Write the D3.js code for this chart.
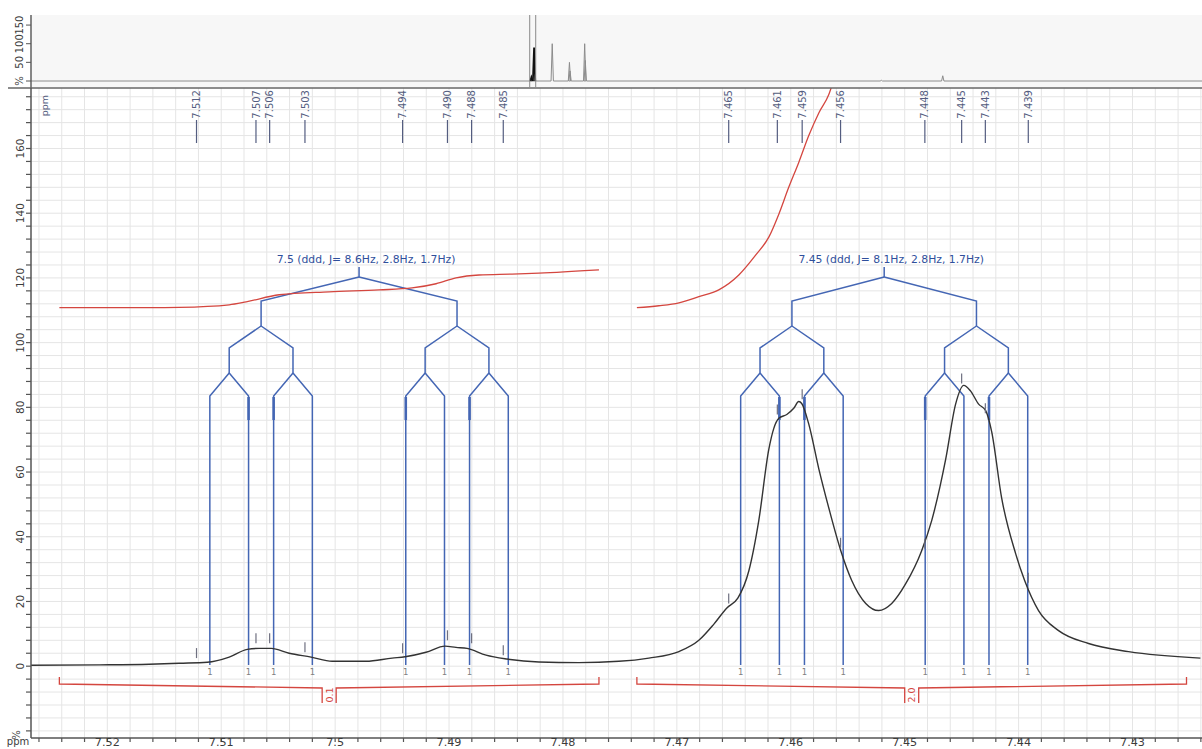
<!DOCTYPE html>
<html>
<head>
<meta charset="utf-8">
<title>1H NMR, 7.42–7.53 ppm</title>
<script src="https://cdn.jsdelivr.net/npm/d3@7/dist/d3.min.js"></script>
<style>
  html, body { margin: 0; padding: 0; background: #ffffff; }
  svg { display: block; }
</style>
</head>
<body>
<svg id="chart" width="1202" height="749"></svg>
<script>
// ---------------- data ----------------
const spectrometerMHz = 500;

// expanded region shown in the main panel (ppm, left -> right)
const zoomRange = [7.5267, 7.4239];

// spectrum trace in the expanded region
const spectrumPpm = [7.52675, 7.52070, 7.51632, 7.51368, 7.51123, 7.50930, 7.50772, 7.50667, 7.50561, 7.50404,
  7.50211, 7.50026, 7.49728, 7.49500, 7.49386, 7.49202, 7.49035, 7.48939, 7.48842, 7.48675,
  7.48491, 7.48211, 7.47860, 7.47509, 7.47246, 7.46982, 7.46807, 7.46675, 7.46561, 7.46465,
  7.46368, 7.46281, 7.46193, 7.46149, 7.46105, 7.46035, 7.45974, 7.45930, 7.45904, 7.45842,
  7.45754, 7.45667, 7.45561, 7.45465, 7.45342, 7.45228, 7.45114, 7.44991, 7.44851, 7.44763,
  7.44640, 7.44553, 7.44482, 7.44421, 7.44351, 7.44289, 7.44237, 7.44149, 7.44026, 7.43947,
  7.43825, 7.43649, 7.43386, 7.43035, 7.42404];
const spectrumIntensity = [0.3, 0.4, 0.6, 0.9, 1.2, 2.8, 5.2, 5.5, 5.5, 4.0,
  2.8, 1.5, 1.5, 2.5, 2.9, 4.3, 6.2, 5.8, 5.5, 3.4,
  2.2, 1.3, 1.1, 1.5, 2.5, 4.5, 8, 13, 18, 21,
  29.5, 45, 67, 73.5, 76.6, 77.8, 79.7, 81.8, 81.2, 74.8,
  61, 49, 35.7, 26.5, 19.4, 17.2, 19.4, 25.5, 35.7, 45,
  64, 81, 86.8, 85, 81, 79, 72.6, 52, 34.8, 26.5,
  17.2, 11, 7, 4.5, 2.5];

// picked peaks
const peakPpm = [7.51217, 7.50695, 7.50575, 7.50265, 7.49408, 7.49014, 7.48802, 7.48524,
  7.46545, 7.46118, 7.45900, 7.45563, 7.44823, 7.44500, 7.44292, 7.43915];
const peakHeight = [2.5, 7.1, 7.1, 4.3, 4.0, 8.0, 7.1, 3.4, 19.4, 77.8, 82.5, 36.6, 36.3, 87.4, 78.2, 25.8];

// multiplet analysis
const multipletCenter = [7.4979, 7.4518];
const multipletJ = [[8.6, 2.8, 1.7], [8.1, 2.8, 1.7]];
const multipletLabel = ["7.5 (ddd, J= 8.6Hz, 2.8Hz, 1.7Hz)", "7.45 (ddd, J= 8.1Hz, 2.8Hz, 1.7Hz)"];

// integrals
const integralRange = [[7.52421, 7.47684], [7.47351, 7.42526]];
const integralValue = ["0.1", "2.0"];
const leftIntegralPpm = [7.52421, 7.51632, 7.51368, 7.50930, 7.50781, 7.50491, 7.50053, 7.49614,
  7.49325, 7.49114, 7.48939, 7.48737, 7.48447, 7.48211, 7.47684];
const leftIntegralValue = [110.8, 110.8, 110.9, 111.7, 112.6, 114.8, 115.7, 116.3,
  116.9, 118.2, 120.0, 120.9, 121.2, 121.5, 122.5];
const rightIntegralPpm = [7.47351, 7.47158, 7.46982, 7.46807, 7.46632, 7.46456, 7.46307, 7.46193,
  7.46105, 7.46018, 7.45930, 7.45842, 7.45754, 7.45667, 7.45600];
const rightIntegralValue = [110.8, 111.4, 112.3, 114.2, 116.3, 120.9, 127.1, 132.6,
  139.7, 148.0, 155.7, 164.0, 171.0, 176.6, 184.0];

// axis ticks
const xTickValues = [7.52, 7.51, 7.50, 7.49, 7.48, 7.47, 7.46, 7.45, 7.44, 7.43];
const xTickLabels = ["7.52", "7.51", "7.5", "7.49", "7.48", "7.47", "7.46", "7.45", "7.44", "7.43"];
const yTickValues = [0, 20, 40, 60, 80, 100, 120, 140, 160];
const yTickLabels = ["0", "20", "40", "60", "80", "100", "120", "140", "160"];

// full-width overview spectrum
const overviewDomain = [16.07, -3.99];
const overviewPeakPpm = [7.498, 7.452, 7.141, 6.846, 6.836, 6.585, 6.575, 1.503, 0.451];
const overviewPeakHeight = [10, 90, 100, 50, 27, 100, 55, 2, 14];
const overviewTickValues = [0, 50, 100, 150];
const overviewTickLabels = ["%", "50", "100", "150"];

// ---------------- drawing ----------------
const FONT = '"DejaVu Sans", Verdana, sans-serif';
const svg = d3.select("#chart").style("font-family", FONT);

const plot = { left: 31, right: 1202, top: 88, bottom: 738 };
const x = d3.scaleLinear().domain(zoomRange).range([plot.left, plot.right]);
const y = d3.scaleLinear().domain([-22.2, 178.7]).range([plot.bottom, plot.top]);
const hzToPpm = hz => hz / spectrometerMHz;

function vtext(g, px, py, str, anchor, size, color) {
  return g.append("text")
    .attr("transform", `translate(${px},${py}) rotate(-90)`)
    .attr("text-anchor", anchor)
    .attr("font-size", size)
    .attr("fill", color)
    .text(str);
}

// ----- overview strip -----
const strip = { left: 31, right: 1202, top: 15, bottom: 87 };
const sx = d3.scaleLinear().domain(overviewDomain).range([strip.left, strip.right]);
const sy = d3.scaleLinear().domain([0, 177]).range([81, strip.top]);

svg.append("rect")
  .attr("x", strip.left).attr("y", strip.top)
  .attr("width", strip.right - strip.left).attr("height", strip.bottom - strip.top)
  .attr("fill", "#f7f7f7");

const inZoom = p => p <= zoomRange[0] && p >= zoomRange[1];
const stickLine = d3.line().x(d => sx(d[0])).y(d => sy(d[1]));
const overviewIdx = d3.range(overviewPeakPpm.length).sort((a, b) => overviewPeakPpm[b] - overviewPeakPpm[a]);
const outsidePts = [[overviewDomain[0], 0]];
overviewIdx.filter(i => !inZoom(overviewPeakPpm[i])).forEach(i => {
  const p = overviewPeakPpm[i], h = overviewPeakHeight[i];
  outsidePts.push([p + 0.02, 0], [p, h], [p - 0.02, 0]);
});
outsidePts.push([overviewDomain[1], 0]);
svg.append("path").attr("d", stickLine(outsidePts))
  .attr("fill", "none").attr("stroke", "#8c8c8c").attr("stroke-width", 1);

overviewIdx.filter(i => inZoom(overviewPeakPpm[i])).forEach(i => {
  const p = overviewPeakPpm[i], h = overviewPeakHeight[i];
  svg.append("path").attr("d", stickLine([[p + 0.02, 0], [p, h], [p - 0.02, 0]]))
    .attr("fill", "none").attr("stroke", "#111").attr("stroke-width", 1.8);
});

zoomRange.forEach(p => {
  svg.append("line")
    .attr("x1", sx(p)).attr("x2", sx(p))
    .attr("y1", strip.top).attr("y2", strip.bottom)
    .attr("stroke", "#8a8a8a").attr("stroke-width", 1);
});

// strip axis
svg.append("line").attr("x1", strip.left).attr("x2", strip.left)
  .attr("y1", strip.top).attr("y2", plot.top)
  .attr("stroke", "#555").attr("stroke-width", 1.4);
overviewTickValues.forEach((v, i) => {
  svg.append("line").attr("x1", strip.left - 5).attr("x2", strip.left)
    .attr("y1", sy(v)).attr("y2", sy(v)).attr("stroke", "#555");
  vtext(svg, 23, sy(v), overviewTickLabels[i], "middle", 10, "#3c3c3c");
});

// ----- main panel -----
svg.append("defs").append("clipPath").attr("id", "plotClip")
  .append("rect").attr("x", plot.left).attr("y", plot.top)
  .attr("width", plot.right - plot.left).attr("height", plot.bottom - plot.top);

const grid = svg.append("g").attr("stroke", "#e5e5e5").attr("stroke-width", 1);
const xMinorTicks = d3.range(0, 60).map(i => 7.526 - i * 0.002).filter(p => p >= zoomRange[1]);
xMinorTicks.forEach(p => {
  grid.append("line").attr("x1", x(p)).attr("x2", x(p))
    .attr("y1", plot.top).attr("y2", plot.bottom);
});
const yGridValues = d3.range(-20, 178, 4);
yGridValues.forEach(v => {
  grid.append("line").attr("x1", plot.left).attr("x2", plot.right)
    .attr("y1", y(v)).attr("y2", y(v));
});

const body = svg.append("g").attr("clip-path", "url(#plotClip)");

// multiplet trees
const BLUE = "#4466b4";
const lvl = { stemTop: 267, top: 277, l1: 301, l1b: 326, l2: 348, l2b: 373, l3: 396, bottom: 665 };
const trees = body.append("g").attr("fill", "none").attr("stroke", BLUE).attr("stroke-width", 1.5);
multipletCenter.forEach((c, m) => {
  const [J1, J2, J3] = multipletJ[m].map(hzToPpm);
  const cx = x(c);
  trees.append("line").attr("x1", cx).attr("x2", cx).attr("y1", lvl.stemTop).attr("y2", lvl.top);
  const finals = [];
  [-1, 1].forEach(s1 => {
    const p1 = c - s1 * J1 / 2;
    trees.append("polyline").attr("points", [[cx, lvl.top], [x(p1), lvl.l1], [x(p1), lvl.l1b]].join(" "));
    [-1, 1].forEach(s2 => {
      const p2 = p1 - s2 * J2 / 2;
      trees.append("polyline").attr("points", [[x(p1), lvl.l1b], [x(p2), lvl.l2], [x(p2), lvl.l2b]].join(" "));
      [-1, 1].forEach(s3 => {
        const p3 = p2 - s3 * J3 / 2;
        trees.append("polyline").attr("points", [[x(p2), lvl.l2b], [x(p3), lvl.l3], [x(p3), lvl.bottom]].join(" "));
        finals.push(p3);
      });
    });
  });
  finals.forEach((p, k) => {
    if ([1, 2, 4, 6].includes(k)) {
      trees.append("line").attr("x1", x(p)).attr("x2", x(p))
        .attr("y1", lvl.l3 + 1).attr("y2", lvl.l3 + 24).attr("stroke-width", 2.6);
    }
    svg.append("text").attr("x", x(p)).attr("y", 675)
      .attr("text-anchor", "middle").attr("font-size", 8.5).attr("fill", "#808080").text("1");
  });
  svg.append("text").attr("x", cx + 7).attr("y", 263)
    .attr("text-anchor", "middle").attr("font-size", 10.8).attr("fill", "#2f4f9c")
    .text(multipletLabel[m]);
});

// integral curves
const RED = "#d4463f";
const integralLine = d3.line().x(d => x(d[0])).y(d => y(d[1])).curve(d3.curveMonotoneX);
[[leftIntegralPpm, leftIntegralValue], [rightIntegralPpm, rightIntegralValue]].forEach(([ps, vs]) => {
  body.append("path").attr("d", integralLine(ps.map((p, i) => [p, vs[i]])))
    .attr("fill", "none").attr("stroke", RED).attr("stroke-width", 1.3);
});

// spectrum
const specLine = d3.line().x(d => x(d[0])).y(d => y(d[1])).curve(d3.curveMonotoneX);
body.append("path").attr("d", specLine(spectrumPpm.map((p, i) => [p, spectrumIntensity[i]])))
  .attr("fill", "none").attr("stroke", "#333").attr("stroke-width", 1.4);

// peak markers above the trace
peakPpm.forEach((p, i) => {
  body.append("line").attr("x1", x(p)).attr("x2", x(p))
    .attr("y1", y(peakHeight[i])).attr("y2", y(peakHeight[i]) - 10)
    .attr("stroke", "#6f7080").attr("stroke-width", 1.2);
});

// integral brackets
integralRange.forEach((r, i) => {
  const xa = x(r[0]), xb = x(r[1]), xc = (xa + xb) / 2;
  const path = `M${xa},677 V684 L${xc - 7},688 V703 M${xc + 7},703 V688 L${xb},684 V677`;
  svg.append("path").attr("d", path).attr("fill", "none").attr("stroke", RED).attr("stroke-width", 1.3);
  vtext(svg, xc + 3.5, 695, integralValue[i], "middle", 9.5, RED);
});

// peak labels along the top
const PEAKCOL = "#545d80";
peakPpm.forEach(p => {
  const px = x(p);
  vtext(svg, px + 3.6, 90, p.toFixed(3), "end", 10, PEAKCOL);
  svg.append("line").attr("x1", px).attr("x2", px).attr("y1", 120).attr("y2", 143)
    .attr("stroke", PEAKCOL).attr("stroke-width", 1.2);
});
vtext(svg, 48, 95, "ppm", "end", 9.5, PEAKCOL);

// frame line between the panels
svg.append("line").attr("x1", 8).attr("x2", plot.right).attr("y1", plot.top).attr("y2", plot.top)
  .attr("stroke", "#666").attr("stroke-width", 1.5);

// y axis
const axisG = svg.append("g");
axisG.append("line").attr("x1", plot.left).attr("x2", plot.left)
  .attr("y1", plot.top).attr("y2", plot.bottom).attr("stroke", "#555").attr("stroke-width", 1.5);
yGridValues.forEach(v => {
  axisG.append("line").attr("x1", plot.left - 5).attr("x2", plot.left)
    .attr("y1", y(v)).attr("y2", y(v)).attr("stroke", "#555").attr("stroke-width", 1.2);
});
yTickValues.forEach((v, i) => vtext(axisG, 24, y(v), yTickLabels[i], "middle", 10.5, "#3c3c3c"));

// x axis
axisG.append("line").attr("x1", plot.left).attr("x2", plot.right)
  .attr("y1", plot.bottom).attr("y2", plot.bottom).attr("stroke", "#555").attr("stroke-width", 1.5);
xMinorTicks.forEach(p => {
  axisG.append("line").attr("x1", x(p)).attr("x2", x(p))
    .attr("y1", plot.bottom).attr("y2", plot.bottom + 4).attr("stroke", "#555").attr("stroke-width", 1.2);
});
xTickValues.forEach((v, i) => {
  axisG.append("text").attr("x", x(v)).attr("y", 746)
    .attr("text-anchor", "middle").attr("font-size", 11.2).attr("fill", "#3c3c3c").text(xTickLabels[i]);
});
axisG.append("text").attr("x", 18).attr("y", 745).attr("text-anchor", "middle")
  .attr("font-size", 10).attr("fill", "#3c3c3c").text("ppm");
vtext(axisG, 20, 735, "%", "middle", 10, "#3c3c3c");
</script>
</body>
</html>
